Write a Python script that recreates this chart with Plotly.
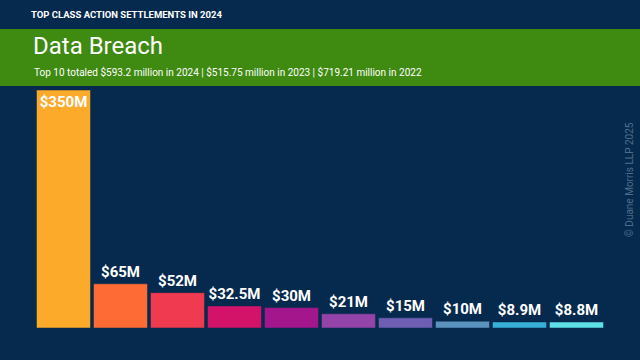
import plotly.graph_objects as go

categories = ["#1", "#2", "#3", "#4", "#5", "#6", "#7", "#8", "#9", "#10"]
values = [350, 65, 52, 32.5, 30, 21, 15, 10, 8.9, 8.8]
labels = ["$350M", "$65M", "$52M", "$32.5M", "$30M", "$21M", "$15M", "$10M", "$8.9M", "$8.8M"]
colors = ["#FBAA2A", "#FE6B35", "#F03A4F", "#D3126A", "#A3168C",
          "#9443A8", "#6E5FB2", "#5B93BF", "#38B0D8", "#5DE0E6"]

W, H = 640, 360
ML, MR, MT, MB = 35, 35, 90, 32
PW, PH = W - ML - MR, H - MT - MB
NAVY = "#062A4D"
GREEN = "#3F8A10"

def px(x):
    return (x - ML) / PW

def py(y):
    return (H - MB - y) / PH

fig = go.Figure(go.Bar(
    x=categories, y=values, text=labels,
    textposition=["inside"] + ["outside"] * 9,
    insidetextanchor="end",
    textfont=dict(family="Roboto", size=15, color="white", weight="bold"),
    marker=dict(color=colors, line=dict(color=NAVY, width=0.5)),
    cliponaxis=False,
    constraintext="none",
))

fig.update_layout(
    width=W, height=H,
    margin=dict(l=ML, r=MR, t=MT, b=MB),
    paper_bgcolor=NAVY, plot_bgcolor=NAVY,
    bargap=0.053,
    showlegend=False,
    xaxis=dict(visible=False, range=[-0.5, 9.5]),
    yaxis=dict(visible=False, range=[0, 350]),
    shapes=[dict(type="rect", xref="paper", yref="paper",
                 x0=px(0), x1=px(W), y0=py(86), y1=py(29),
                 fillcolor=GREEN, line=dict(width=0), layer="below")],
    annotations=[
        dict(text="<b>TOP CLASS ACTION SETTLEMENTS IN 2024</b>", xref="paper", yref="paper",
             x=px(29), y=py(14), xanchor="left", yanchor="middle", showarrow=False,
             font=dict(family="Roboto", size=9.5, color="white")),
        dict(text="Data Breach", xref="paper", yref="paper",
             x=px(31), y=py(46), xanchor="left", yanchor="middle", showarrow=False,
             font=dict(family="Roboto", size=24, color="white")),
        dict(text="Top 10 totaled $593.2 million in 2024 | $515.75 million in 2023 | $719.21 million in 2022",
             xref="paper", yref="paper",
             x=px(32), y=py(72), xanchor="left", yanchor="middle", showarrow=False,
             font=dict(family="Roboto", size=10, color="white")),
        dict(text="© Duane Morris LLP 2025", xref="paper", yref="paper",
             x=px(629), y=py(180), xanchor="center", yanchor="middle", showarrow=False,
             textangle=-90,
             font=dict(family="Roboto", size=10, color="#4F6E8E")),
    ],
)

fig.write_html("out.html", config={"displayModeBar": False},
               post_script="document.body.style.margin='0';document.body.style.background='%s';" % NAVY)
